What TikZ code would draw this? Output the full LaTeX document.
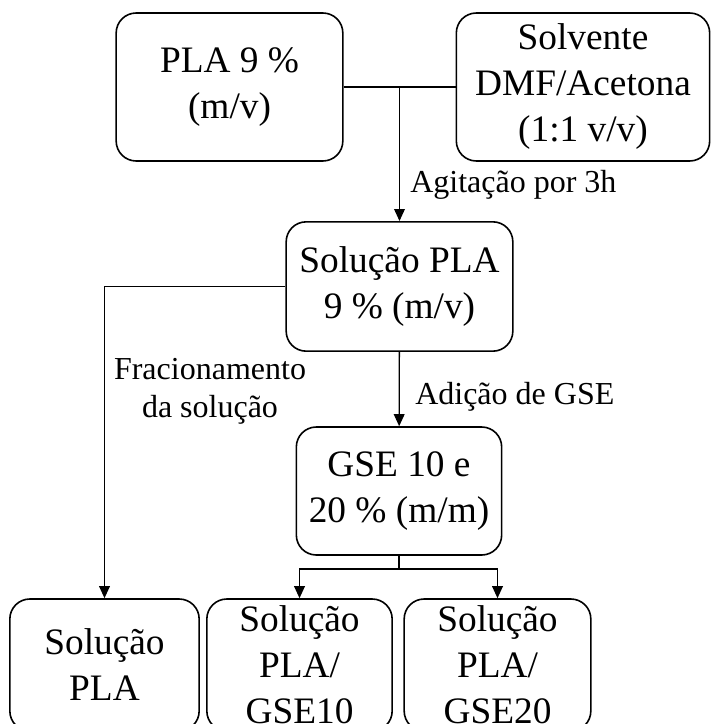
\documentclass[tikz,border=0pt]{standalone}
\usepackage{fontspec}
\setmainfont{Liberation Serif}
\usetikzlibrary{arrows.meta, positioning}

\begin{document}
\begin{tikzpicture}[x=0.75pt, y=-0.75pt,
        box/.style={rectangle, draw=black, line width=1.2pt, rounded corners=15pt,
                    align=center, inner sep=0pt, font=\fontsize{28}{34.5}\selectfont},
        lbl/.style={align=center, inner sep=0pt, font=\fontsize{24}{28.5}\selectfont},
        arr/.style={-{Triangle[length=9pt,width=8pt]}, line width=1pt},
        ln/.style={line width=1pt}]
      \useasboundingbox (0,0) rectangle (713,724);
      \clip (0,0) rectangle (713,724);
      \node[box, minimum width=170pt, minimum height=111pt] (pla) at (229.5,87) {PLA 9 \%\\(m/v)};
      \node[box, minimum width=190pt, minimum height=111pt] (solv) at (583,87) {Solvente\\DMF/Acetona\\(1:1 v/v)};
      \node[box, minimum width=170pt, minimum height=97pt] (sol) at (399.5,286.5) {Solução PLA\\9 \% (m/v)};
      \node[box, minimum width=154pt, minimum height=96pt] (gse) at (399,491) {GSE 10 e\\20 \% (m/m)};
      \node[box, minimum width=142pt, minimum height=99pt] (plb) at (104.5,665) {Solução\\PLA};
      \node[box, minimum width=139pt, minimum height=99pt] (g10) at (299.5,665) {Solução\\PLA/\\GSE10};
      \node[box, minimum width=140pt, minimum height=99pt] (g20) at (497.5,665) {Solução\\PLA/\\GSE20};
      \coordinate (junc) at (pla.east -| sol.north);
      \coordinate (split) at (399,569);
      \draw[ln] (pla) -- (solv);
      \draw[arr] (junc) -- (sol);
      \node[lbl, anchor=west] (agit) at (410,185) {Agitação por 3h};
      \draw[arr] (sol) -| (plb);
      \node[lbl] (frac) at (210,391) {Fracionamento\\da solução};
      \draw[arr] (sol) -- (gse);
      \node[lbl, anchor=west] (adic) at (415,397) {Adição de GSE};
      \draw[ln] (gse) -- (split);
      \draw[arr] (split) -| (g10);
      \draw[arr] (split) -| (g20);
    \end{tikzpicture}
\end{document}
